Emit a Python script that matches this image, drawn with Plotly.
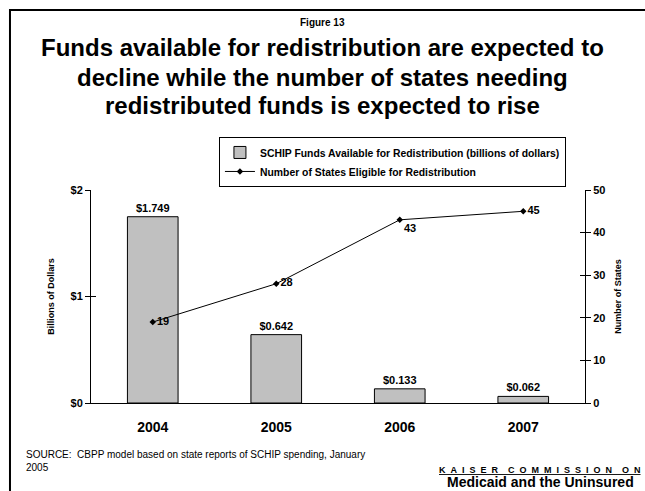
import plotly.graph_objects as go

years = ["2004", "2005", "2006", "2007"]
funds = [1.749, 0.642, 0.133, 0.062]
fund_labels = ["$1.749", "$0.642", "$0.133", "$0.062"]
states = [19, 28, 43, 45]
state_labels = ["19", "28", "43", "45"]
state_label_pos = ["middle right", "middle right", "bottom right", "middle right"]
left_ticks = [0, 1, 2]
left_tick_text = ["$0", "$1", "$2"]
title_lines = [
    "Funds available for redistribution are expected to",
    "decline while the number of states needing",
    "redistributed funds is expected to rise",
]

FONT = "Liberation Sans, Arial, sans-serif"

def bf(size):
    return dict(family=FONT, size=size, color="black", weight="bold")

fig = go.Figure()
fig.add_trace(go.Bar(
    x=years, y=funds, name="SCHIP Funds Available for Redistribution (billions of dollars)",
    marker=dict(color="#C0C0C0", line=dict(color="black", width=1)),
    width=0.41,
    text=fund_labels, textposition="outside", cliponaxis=False,
    textfont=bf(11),
))
fig.add_trace(go.Scatter(
    x=years, y=states, name="Number of States Eligible for Redistribution",
    yaxis="y2", mode="lines+markers+text",
    line=dict(color="black", width=1),
    marker=dict(symbol="diamond", size=5, color="black"),
    text=state_labels, textposition=state_label_pos, cliponaxis=False,
    textfont=bf(11),
))
# invisible helper traces so the inside-tick axes are drawn
fig.add_trace(go.Scatter(x=years, y=funds, yaxis="y3", mode="markers",
                         marker=dict(opacity=0), showlegend=False, hoverinfo="skip"))
fig.add_trace(go.Scatter(x=years, y=states, yaxis="y4", mode="markers",
                         marker=dict(opacity=0), showlegend=False, hoverinfo="skip"))

fig.update_layout(
    width=645, height=491,
    margin=dict(l=91, r=60, t=190, b=88),
    paper_bgcolor="white", plot_bgcolor="white",
    font=dict(family=FONT, color="black"),
    showlegend=True,
    legend=dict(
        x=0.259, y=1.249, xanchor="left", yanchor="top",
        bordercolor="black", borderwidth=1, bgcolor="white",
        font=bf(10.4),
        tracegroupgap=0, itemwidth=30,
    ),
    xaxis=dict(
        showline=True, linecolor="black", linewidth=1, ticks="",
        tickfont=bf(14), ticklabelstandoff=11,
        showgrid=False,
    ),
    yaxis=dict(
        range=[0, 2], tickvals=left_ticks, ticktext=left_tick_text,
        showline=True, linecolor="black", linewidth=1,
        ticks="outside", ticklen=5, tickcolor="black",
        tickfont=bf(11),
        showgrid=False, zeroline=False,
        title=dict(text="Billions of Dollars", font=bf(9), standoff=14),
    ),
    yaxis2=dict(
        overlaying="y", side="right", range=[0, 50], dtick=10,
        showline=True, linecolor="black", linewidth=1,
        ticks="outside", ticklen=5, tickcolor="black",
        tickfont=bf(11),
        showgrid=False, zeroline=False,
        title=dict(text="Number of States", font=bf(9), standoff=10),
    ),
    yaxis3=dict(
        overlaying="y", side="left", range=[0, 2], tickvals=left_ticks,
        showticklabels=False, ticks="inside", ticklen=5, tickcolor="black",
        showline=False, showgrid=False, zeroline=False,
    ),
    yaxis4=dict(
        overlaying="y", side="right", range=[0, 50], dtick=10,
        showticklabels=False, ticks="inside", ticklen=5, tickcolor="black",
        showline=False, showgrid=False, zeroline=False,
    ),
)

# frame
fig.add_shape(type="rect", xref="paper", yref="paper",
              x0=-0.164, x1=1.2, y0=-0.5, y1=1.845,
              line=dict(color="black", width=2), fillcolor="rgba(0,0,0,0)", layer="below")

fig.add_annotation(xref="paper", yref="paper", x=0.468, y=1.788, yanchor="middle",
                   text="Figure 13", showarrow=False, font=bf(10))
for line, yc in zip(title_lines, [1.6667, 1.5305, 1.399]):
    fig.add_annotation(xref="paper", yref="paper", x=0.468, y=yc, yanchor="middle",
                       text=line, showarrow=False, font=bf(24))
fig.add_annotation(xref="paper", yref="paper", x=-0.1356, y=-0.2066, xanchor="left", yanchor="top",
                   align="left",
                   text="SOURCE:  CBPP model based on state reports of SCHIP spending, January<br>2005",
                   showarrow=False, font=dict(family=FONT, size=10, color="black"))
NB = "\u00a0"
kaiser = (NB * 4).join((NB * 2).join(w) for w in ["KAISER", "COMMISSION", "ON"])
fig.add_annotation(xref="paper", yref="paper", x=0.7, y=-0.3146, xanchor="left", yanchor="middle",
                   text="<u>" + kaiser + "</u>",
                   showarrow=False, font=bf(9))
fig.add_annotation(xref="paper", yref="paper", x=0.716, y=-0.371, xanchor="left", yanchor="middle",
                   text="Medicaid and the Uninsured",
                   showarrow=False, font=bf(14))

fig.write_html("out.html", post_script="document.body.style.margin='0';",
               config={"displayModeBar": False})
